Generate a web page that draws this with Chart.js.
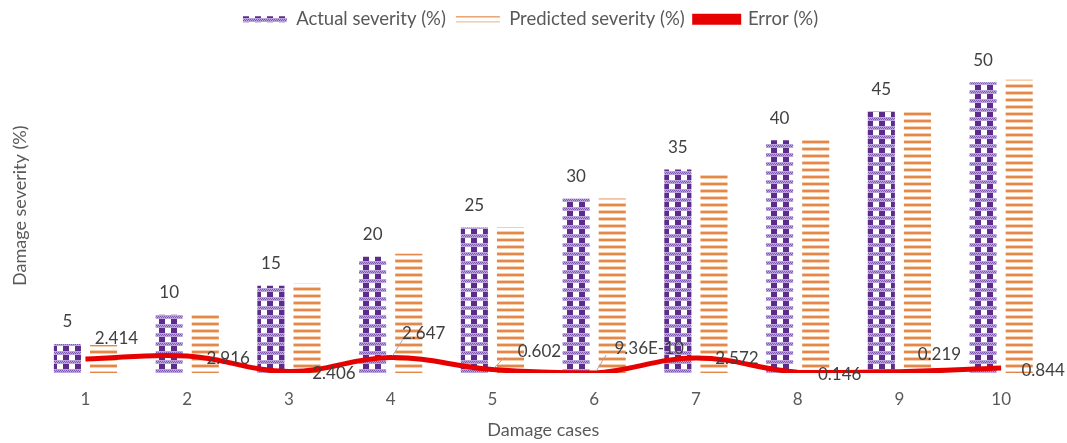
<!DOCTYPE html>
<html>
<head>
<meta charset="utf-8">
<script src="https://cdn.jsdelivr.net/npm/chart.js@4"></script>
<style>
  html, body { margin: 0; padding: 0; background: #fff; }
  #wrap { width: 1067px; height: 443px; }
</style>
</head>
<body>
<div id="wrap"><canvas id="myChart" width="1067" height="443"></canvas></div>
<script>
// chart data
var cases = ['1', '2', '3', '4', '5', '6', '7', '8', '9', '10'];
var actual = [5, 10, 15, 20, 25, 30, 35, 40, 45, 50];
var predicted = [4.8, 10.3, 15.4, 20.5, 25.1, 30.0, 34.2, 40.1, 45.1, 50.4];
var errorLine = [2.414, 2.916, 0.25, 2.647, 0.602, 0.0, 2.572, 0.146, 0.219, 0.844];
var errorLabels = ['2.414', '2.916', '2.406', '2.647', '0.602', '9.36E-10', '2.572', '0.146', '0.219', '0.844'];

var fontFamily = 'Lato, "Open Sans", sans-serif';

function makePurple() {
    var c = document.createElement('canvas');
    c.width = 12; c.height = 9;
    var g = c.getContext('2d');
    g.fillStyle = '#ffffff';
    g.fillRect(0, 0, 12, 9);
    g.fillStyle = '#5d2b8a';
    g.fillRect(3, 0, 6, 9);
    g.fillStyle = '#bba4de';
    g.fillRect(0, 0, 12, 4);
    g.fillStyle = '#7e59ad';
    for (var x = 0; x < 12; x += 2) {
        g.fillRect(x, 1, 1, 1);
        g.fillRect(x + 1, 2, 1, 1);
    }
    return g.createPattern(c, 'repeat');
}

function makeOrange() {
    var c = document.createElement('canvas');
    c.width = 4; c.height = 7;
    var g = c.getContext('2d');
    g.fillStyle = '#ffffff';
    g.fillRect(0, 0, 4, 7);
    g.fillStyle = '#f7ceab';
    g.fillRect(0, 0, 4, 4);
    g.fillStyle = '#e3874a';
    g.fillRect(0, 1, 4, 2);
    return g.createPattern(c, 'repeat');
}

var purpleFill = makePurple();
var orangeFill = makeOrange();

// value labels above the actual bars and next to the error line
var labelPlugin = {
    id: 'valueLabels',
    afterDatasetsDraw: function (chart) {
        var ctx = chart.ctx;
        ctx.save();
        ctx.font = '17px ' + fontFamily;
        ctx.fillStyle = '#404040';
        ctx.textAlign = 'center';
        ctx.textBaseline = 'middle';
        var bars = chart.getDatasetMeta(0).data;
        bars.forEach(function (bar, i) {
            ctx.fillText(String(actual[i]), bar.x, bar.y - 22);
        });
        var dx = [31, 41, 45, 33, 47, 55, 41, 42, 40, 42];
        var dy = [-20, 2, 2, -24, -18, -24, 0, 2, -17, 2];
        var pts = chart.getDatasetMeta(2).data;
        ctx.strokeStyle = '#a6a6a6';
        ctx.lineWidth = 1;
        pts.forEach(function (p, i) {
            if (i === 3 || i === 4 || i === 5) {
                ctx.beginPath();
                ctx.moveTo(p.x + 2, p.y - 2);
                ctx.lineTo(p.x + 12, p.y + dy[i] + 6);
                ctx.stroke();
            }
            ctx.fillText(errorLabels[i], p.x + dx[i], p.y + dy[i]);
        });
        ctx.restore();
    }
};

var ctx = document.getElementById('myChart').getContext('2d');
var myChart = new Chart(ctx, {
    type: 'bar',
    data: {
        labels: cases,
        datasets: [{
            label: 'Actual severity (%)',
            data: actual,
            backgroundColor: purpleFill,
            borderWidth: 0,
            order: 2
        }, {
            label: 'Predicted severity (%)',
            data: predicted,
            backgroundColor: orangeFill,
            borderWidth: 0,
            order: 2
        }, {
            type: 'line',
            label: 'Error (%)',
            data: errorLine,
            borderColor: '#e60000',
            backgroundColor: '#e00000',
            borderWidth: 5,
            tension: 0.4,
            pointRadius: 0,
            order: 1
        }]
    },
    options: {
        responsive: false,
        animation: false,
        maintainAspectRatio: false,
        categoryPercentage: 0.71,
        barPercentage: 0.75,
        layout: { padding: { left: 9, right: 15, top: 0, bottom: 2 } },
        plugins: {
            legend: {
                position: 'top',
                labels: {
                    boxWidth: 44,
                    boxHeight: 6,
                    padding: 10,
                    color: '#595959',
                    font: { family: fontFamily, size: 18.5 },
                    sort: function (a, b) { return a.datasetIndex - b.datasetIndex; }
                }
            },
            tooltip: { enabled: false }
        },
        scales: {
            x: {
                grid: { display: false, drawTicks: false },
                border: { display: false },
                ticks: {
                    color: '#595959',
                    padding: 16,
                    font: { family: fontFamily, size: 17 }
                },
                title: {
                    display: true,
                    text: 'Damage cases',
                    color: '#595959',
                    padding: { top: -6, bottom: 0 },
                    font: { family: fontFamily, size: 18 }
                }
            },
            y: {
                min: 0,
                max: 57.5,
                grid: { display: false, drawTicks: false },
                border: { display: false },
                ticks: { display: false },
                title: {
                    display: true,
                    text: 'Damage severity (%)',
                    color: '#595959',
                    padding: { top: 0, bottom: 4 },
                    font: { family: fontFamily, size: 18 }
                }
            }
        }
    },
    plugins: [labelPlugin]
});
</script>
</body>
</html>
